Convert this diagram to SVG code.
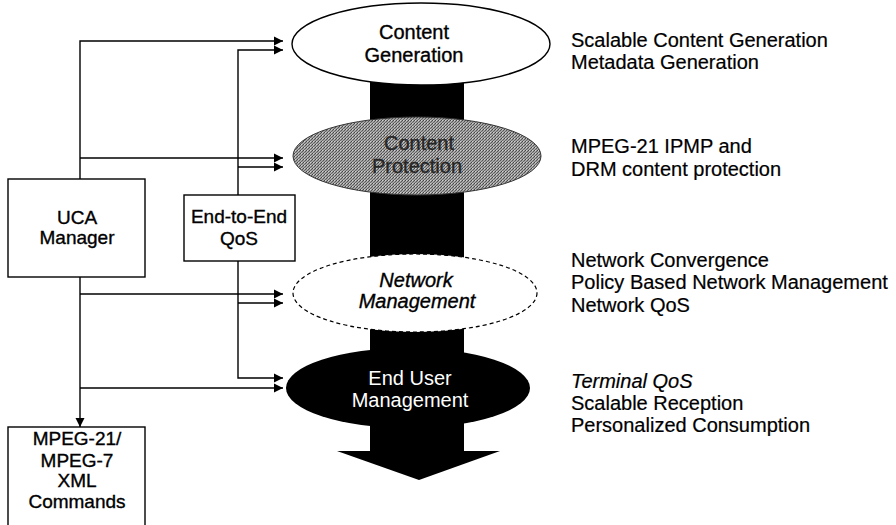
<svg xmlns="http://www.w3.org/2000/svg" width="896" height="525" viewBox="0 0 896 525">
  <style>
    .box { fill: #fff; stroke: #000; stroke-width: 1.4; }
    .lbl { font-family: "Liberation Sans", Arial, sans-serif; font-size: 19px; fill: #000; stroke: #000; stroke-width: 0.35; text-anchor: middle; }
    .ell { font-family: "Liberation Sans", Arial, sans-serif; font-size: 20px; stroke-width: 0.35; text-anchor: middle; }
    .note { font-family: "Liberation Sans", Arial, sans-serif; font-size: 20px; fill: #000; stroke: #000; stroke-width: 0.2; }
    .wire { fill: none; stroke: #000; stroke-width: 1.4; }
  </style>
  <defs>
    <marker id="arrow" viewBox="0 0 10 10" refX="10" refY="5" markerWidth="9" markerHeight="10" markerUnits="userSpaceOnUse" orient="auto">
      <path d="M0,0 L10,5 L0,10 Z" fill="#000"/>
    </marker>
    <!-- halftone stipple for the protection stage -->
    <pattern id="stipple" width="3" height="3" patternUnits="userSpaceOnUse">
      <rect width="3" height="3" fill="#a4a4a4"/>
      <rect x="0" y="0" width="1" height="1" fill="#444"/>
      <rect x="2" y="1" width="1" height="1" fill="#555"/>
      <rect x="1" y="2" width="1" height="1" fill="#666"/>
      <rect x="1" y="0" width="1" height="1" fill="#d0d0d0"/>
    </pattern>
  </defs>

  <!-- central flow: shaft and arrowhead -->
  <g id="flow">
    <rect x="370" y="70" width="94" height="382" fill="#000"/>
    <polygon points="337,451 500,451 419,480" fill="#000"/>
  </g>

  <!-- stage ellipses -->
  <g id="content-generation">
    <ellipse cx="421" cy="44" rx="129" ry="41" fill="#fff" stroke="#000" stroke-width="1.4"/>
    <text class="ell" x="414" y="39" fill="#000" stroke="#000">Content</text>
    <text class="ell" x="414" y="62" fill="#000" stroke="#000">Generation</text>
  </g>
  <g id="content-protection">
    <ellipse cx="417" cy="156" rx="124" ry="39" fill="url(#stipple)" stroke="#333" stroke-width="1"/>
    <text class="ell" x="419" y="150" fill="#262626" stroke="#262626">Content</text>
    <text class="ell" x="417" y="173" fill="#262626" stroke="#262626">Protection</text>
  </g>
  <g id="network-management">
    <ellipse cx="415" cy="293" rx="122" ry="39" fill="#fff" stroke="#000" stroke-width="1.2" stroke-dasharray="4,3"/>
    <text class="ell" x="416" y="287" fill="#000" stroke="#000" font-style="italic" font-size="21">Network</text>
    <text class="ell" x="417" y="308" fill="#000" stroke="#000" font-style="italic" font-size="21">Management</text>
  </g>
  <g id="end-user-management">
    <ellipse cx="408" cy="388" rx="122" ry="40" fill="#000"/>
    <text class="ell" x="410" y="385" fill="#fff" font-size="22">End User</text>
    <text class="ell" x="410" y="407" fill="#fff" font-size="22">Management</text>
  </g>

  <!-- control boxes -->
  <g id="uca-manager">
    <rect class="box" x="8" y="179" width="137" height="98"/>
    <text class="lbl" x="77" y="224">UCA</text>
    <text class="lbl" x="77" y="244">Manager</text>
  </g>
  <g id="end-to-end-qos">
    <rect class="box" x="184" y="195" width="111" height="66"/>
    <text class="lbl" x="239" y="223">End-to-End</text>
    <text class="lbl" x="239" y="245">QoS</text>
  </g>
  <g id="xml-commands">
    <rect class="box" x="8" y="427" width="137" height="110"/>
    <text class="lbl" x="77" y="445">MPEG-21/</text>
    <text class="lbl" x="77" y="467">MPEG-7</text>
    <text class="lbl" x="77" y="487">XML</text>
    <text class="lbl" x="77" y="508">Commands</text>
  </g>

  <!-- connectors -->
  <g id="connectors">
    <path class="wire" d="M80,179 V41 H283" marker-end="url(#arrow)"/>
    <path class="wire" d="M80,158 H283" marker-end="url(#arrow)"/>
    <path class="wire" d="M80,277 V427" marker-end="url(#arrow)"/>
    <path class="wire" d="M80,294 H283" marker-end="url(#arrow)"/>
    <path class="wire" d="M80,388 H283" marker-end="url(#arrow)"/>
    <path class="wire" d="M238,195 V50 H283" marker-end="url(#arrow)"/>
    <path class="wire" d="M238,167 H283" marker-end="url(#arrow)"/>
    <path class="wire" d="M238,261 V378 H283" marker-end="url(#arrow)"/>
    <path class="wire" d="M238,303 H283" marker-end="url(#arrow)"/>
  </g>

  <!-- stage descriptions -->
  <g id="notes">
    <text class="note" x="571" y="47">Scalable Content Generation</text>
    <text class="note" x="571" y="69">Metadata Generation</text>
    <text class="note" x="571" y="153">MPEG-21 IPMP and</text>
    <text class="note" x="571" y="176">DRM content protection</text>
    <text class="note" x="571" y="267">Network Convergence</text>
    <text class="note" x="571" y="289">Policy Based Network Management</text>
    <text class="note" x="571" y="312">Network QoS</text>
    <text class="note" x="571" y="388" font-style="italic">Terminal QoS</text>
    <text class="note" x="571" y="410">Scalable Reception</text>
    <text class="note" x="571" y="432">Personalized Consumption</text>
  </g>
</svg>
